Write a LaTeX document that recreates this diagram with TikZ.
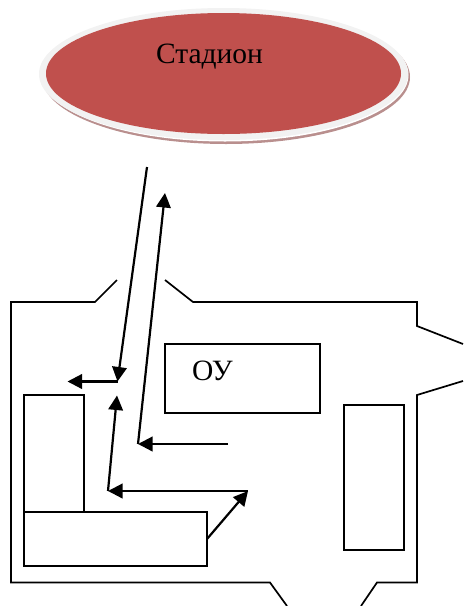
\documentclass[tikz,border=0pt]{standalone}
\usepackage{fontspec}
\setmainfont{Liberation Serif}
\usetikzlibrary{arrows.meta}
\definecolor{stadred}{HTML}{C0504D}
\definecolor{stadrim}{HTML}{F2F2F2}
\definecolor{stadshadow}{HTML}{B98F8E}
\tikzset{
  wall/.style={draw=black,line width=1.7pt,line join=miter},
  room/.style={draw=black,line width=1.9pt,fill=white},
  route/.style={draw=black,line width=2.2pt,-{Triangle[length=14.5pt,width=14.5pt]}},
  label/.style={inner sep=0pt,font=\fontsize{29.5}{31}\selectfont},
}
\begin{document}
\begin{tikzpicture}[x=1pt,y=-1pt]
\useasboundingbox (0,0) rectangle (464,606);
% stadium
\fill[stadshadow] (226,77) ellipse [x radius=184,y radius=67];
\fill[white] (225,75) ellipse [x radius=183.5,y radius=66.5];
\fill[stadrim] (223.5,74) ellipse [x radius=184.5,y radius=66];
\fill[stadred] (223.5,73.5) ellipse [x radius=177.5,y radius=60.5];
\node[label] (stadion) at (209.5,56.5) {Стадион};
% building outline
\draw[wall] (117,280) -- (95,302) -- (11,302) -- (11,582.5) -- (270,582.5) -- (287,606);
\draw[wall] (361,606) -- (377,582.5) -- (417,582.5) -- (417,395) -- (463,381);
\draw[wall] (165,280) -- (193,302) -- (417,302) -- (417,326) -- (463,344);
% rooms
\node[room,minimum width=155pt,minimum height=69pt,inner sep=0pt] (ou) at (242.5,378.5) {};
\node[label,anchor=west] (oulabel) at (192,370.5) {ОУ};
\node[room,minimum width=60pt,minimum height=118pt,inner sep=0pt] (tall) at (54,454) {};
\node[room,minimum width=183pt,minimum height=54pt,inner sep=0pt] (low) at (115.5,539) {};
\node[room,minimum width=60pt,minimum height=145pt,inner sep=0pt] (right) at (374.25,477.75) {};
% route points
\coordinate (a) at (147,167);
\coordinate (b) at (117.5,381.5);
\coordinate (c) at (67.5,381.5);
\coordinate (d) at (228,444);
\coordinate (e) at (138,444);
\coordinate (f) at (165,193);
\coordinate (g) at (207,539);
\coordinate (h) at (248,491);
\coordinate (i) at (108,491);
\coordinate (j) at (117,395.5);
\draw[route] (a) -- (b);
\draw[route] (b) -- (c);
\draw[route] (d) -- (e);
\draw[route] (e) -- (f);
\draw[route] (g) -- (h);
\draw[route] (h) -- (i);
\draw[route] (i) -- (j);
\end{tikzpicture}
\end{document}
